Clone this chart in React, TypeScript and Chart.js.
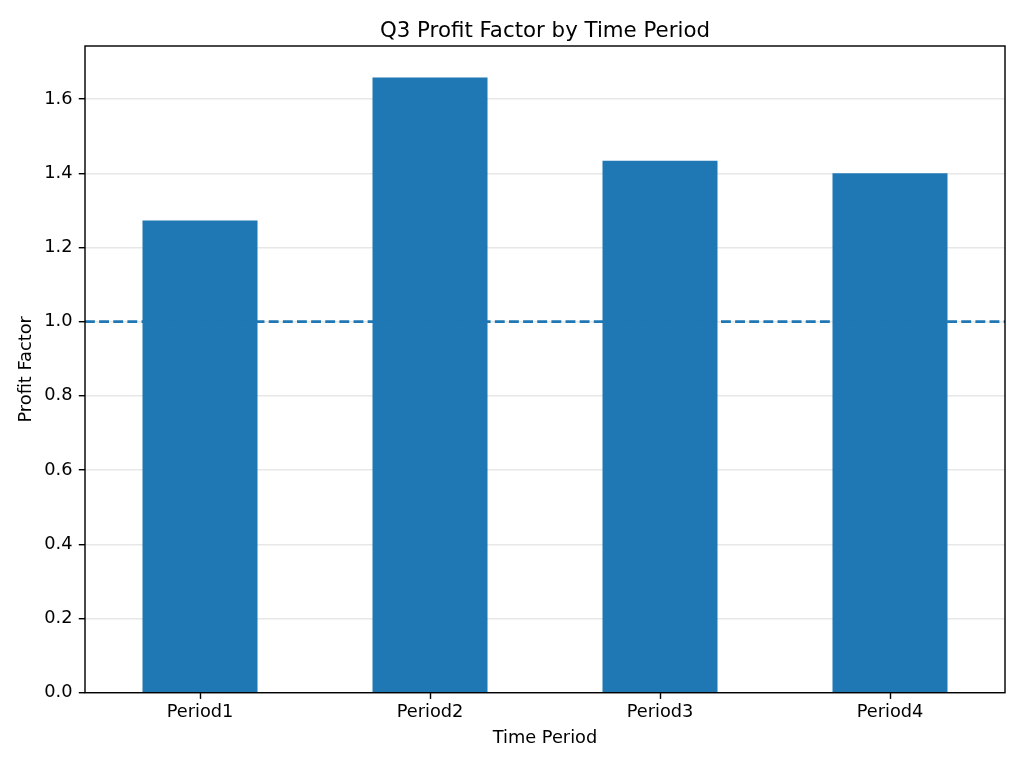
import { useRef, useEffect } from "react";
import { Chart, registerables } from "chart.js";

Chart.register(...registerables);

const TITLE = "Q3 Profit Factor by Time Period";
const PERIODS = ["Period1", "Period2", "Period3", "Period4"];
const PROFIT_FACTOR = [1.273, 1.658, 1.434, 1.4];
const BREAK_EVEN = 1.0;
const Y_MAX = 1.743;
const Y_TICK_STEP = 0.2;

const BLUE = "#1f77b4";
const FONT = "'DejaVu Sans', sans-serif";
const PT = 128 / 72; // figure looks rendered at 128 dpi

// horizontal dashed reference line across the full plot width (like axhline)
const refLinePlugin = {
  id: "refLine",
  afterDatasetsDraw(chart: Chart) {
    const { ctx, chartArea } = chart;
    const y = chart.scales.y.getPixelForValue(BREAK_EVEN);
    ctx.save();
    ctx.strokeStyle = BLUE;
    ctx.lineWidth = 1.5 * PT;
    ctx.setLineDash([5.55 * PT, 2.4 * PT]);
    ctx.beginPath();
    ctx.moveTo(chartArea.left, y);
    ctx.lineTo(chartArea.right, y);
    ctx.stroke();
    ctx.restore();
  },
};

// full box frame around the axes + title centred over the plot area
const framePlugin = {
  id: "frame",
  afterDraw(chart: Chart) {
    const { ctx, chartArea } = chart;
    ctx.save();
    ctx.strokeStyle = "#000";
    ctx.lineWidth = 0.8 * PT;
    ctx.strokeRect(
      chartArea.left,
      chartArea.top,
      chartArea.right - chartArea.left,
      chartArea.bottom - chartArea.top
    );
    ctx.fillStyle = "#000";
    ctx.font = `${12 * PT}px ${FONT}`;
    ctx.textAlign = "center";
    ctx.textBaseline = "alphabetic";
    ctx.fillText(TITLE, (chartArea.left + chartArea.right) / 2, chartArea.top - 9.3);
    ctx.restore();
  },
};

export default function App() {
  const canvasRef = useRef<HTMLCanvasElement>(null);
  const chartRef = useRef<Chart | null>(null);

  useEffect(() => {
    if (!canvasRef.current) return;
    if (chartRef.current) chartRef.current.destroy();

    chartRef.current = new Chart(canvasRef.current, {
      type: "bar",
      data: {
        labels: PERIODS,
        datasets: [
          {
            label: "Profit Factor",
            data: PROFIT_FACTOR,
            backgroundColor: BLUE,
            borderWidth: 0,
            categoryPercentage: 1,
            barPercentage: 0.5,
          },
        ],
      },
      options: {
        responsive: false,
        animation: false,
        devicePixelRatio: 1,
        layout: { padding: { left: 0, right: 19, top: 46, bottom: 0 } },
        plugins: {
          legend: { display: false },
          tooltip: { enabled: false },
          title: { display: false },
        },
        scales: {
          x: {
            offset: true,
            afterFit: (scale: any) => {
              scale.height = 75.3;
            },
            grid: {
              display: true,
              drawOnChartArea: false,
              drawTicks: true,
              tickLength: 3.5 * PT,
              tickColor: "#000",
              tickWidth: 0.8 * PT,
              offset: false,
            },
            border: { display: false },
            ticks: {
              color: "#000",
              padding: 3,
              font: { family: FONT, size: 10 * PT },
            },
            title: {
              display: true,
              text: "Time Period",
              color: "#000",
              font: { family: FONT, size: 10 * PT },
              padding: { top: 0, bottom: 18.5 },
            },
          },
          y: {
            min: 0,
            max: Y_MAX,
            z: 1,
            afterFit: (scale: any) => {
              scale.width = 85;
            },
            afterBuildTicks: (scale: any) => {
              scale.ticks = scale.ticks.filter(
                (t: any) => Math.abs(t.value / Y_TICK_STEP - Math.round(t.value / Y_TICK_STEP)) < 1e-6
              );
            },
            grid: {
              color: "rgba(176,176,176,0.3)",
              lineWidth: 0.8 * PT,
              tickLength: 3.5 * PT,
              tickColor: "#000",
              tickWidth: 0.8 * PT,
            },
            border: { display: false },
            ticks: {
              stepSize: Y_TICK_STEP,
              color: "#000",
              padding: 3.5 * PT,
              font: { family: FONT, size: 10 * PT },
              callback: (v: any) => Number(v).toFixed(1),
            },
            title: {
              display: true,
              text: "Profit Factor",
              color: "#000",
              font: { family: FONT, size: 10 * PT },
              padding: { top: 16, bottom: 0 },
            },
          },
        },
      },
      plugins: [refLinePlugin, framePlugin],
    });

    return () => {
      chartRef.current?.destroy();
      chartRef.current = null;
    };
  }, []);

  return (
    <div
      style={{
        position: "fixed",
        left: 0,
        top: 0,
        width: 1024,
        height: 768,
        background: "#fff",
      }}
    >
      <canvas ref={canvasRef} width={1024} height={768} />
    </div>
  );
}
